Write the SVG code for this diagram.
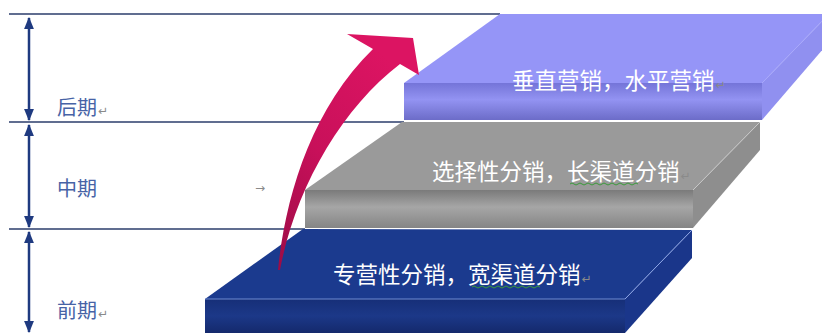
<svg xmlns="http://www.w3.org/2000/svg" width="822" height="333" viewBox="0 0 822 333">
  <style>
    .guide { stroke: #2b3d6b; stroke-width: 1.5; fill: none; }
    .span { stroke: #1f3a80; stroke-width: 2.5; fill: none; marker-start: url(#head); marker-end: url(#head); }
    .phase { font-family: "Noto Sans CJK SC", "Liberation Sans", sans-serif; font-size: 20px; fill: #4763a6; }
    .mark { font-family: "DejaVu Sans", "Liberation Sans", sans-serif; font-size: 12px; fill: #8a8a8a; }
    .blk { font-family: "Noto Sans CJK SC", "Liberation Sans", sans-serif; font-size: 22.5px; fill: #ffffff; }
    .squig { stroke: #3a9a3a; stroke-width: 1; fill: none; }
  </style>
  <defs>
    <marker id="head" viewBox="0 0 11 9" refX="10" refY="4.5" markerWidth="12" markerHeight="10" orient="auto-start-reverse" markerUnits="userSpaceOnUse">
      <path d="M0,0 L11,4.5 L0,9 Z" fill="#1f3a80"/>
    </marker>
    <linearGradient id="frontPurple" x1="0" y1="0" x2="0" y2="1">
      <stop offset="0" stop-color="#7474d8"/>
      <stop offset="0.45" stop-color="#9393f2"/>
      <stop offset="1" stop-color="#6c6cc8"/>
    </linearGradient>
    <linearGradient id="frontGray" x1="0" y1="0" x2="0" y2="1">
      <stop offset="0" stop-color="#7a7a7a"/>
      <stop offset="0.45" stop-color="#a6a6a6"/>
      <stop offset="1" stop-color="#858585"/>
    </linearGradient>
    <linearGradient id="frontNavy" x1="0" y1="0" x2="0" y2="1">
      <stop offset="0" stop-color="#162f78"/>
      <stop offset="0.5" stop-color="#1c3888"/>
      <stop offset="1" stop-color="#14296c"/>
    </linearGradient>
    <linearGradient id="sweep" x1="0" y1="1" x2="0.6" y2="0">
      <stop offset="0" stop-color="#9c0c46"/>
      <stop offset="0.5" stop-color="#c8105a"/>
      <stop offset="1" stop-color="#dc1462"/>
    </linearGradient>
  </defs>

  <!-- horizontal phase boundaries -->
  <g id="guides">
    <line class="guide" x1="9" y1="14" x2="500" y2="14"/>
    <line class="guide" x1="9" y1="122" x2="404" y2="122"/>
    <line class="guide" x1="9" y1="229" x2="305" y2="229"/>
  </g>

  <!-- bottom step -->
  <g id="step-early">
    <polygon points="205,299 303,229 692,230 625,299" fill="#1b3a8e"/>
    <polygon points="625,299 692,230 692,258 625,333" fill="#1a368a"/>
    <rect x="205" y="299" width="420" height="34" fill="url(#frontNavy)"/>
    <line x1="205" y1="299" x2="625" y2="299" stroke="#6f8ad0" stroke-width="1"/>
    <line x1="625" y1="299" x2="692" y2="230" stroke="#8ea6e6" stroke-width="1"/>
    <text class="blk" x="333" y="283">专营性分销，宽渠道分销<tspan class="mark" fill="#b8c0d8" dx="1">↵</tspan></text>
    <path class="squig" d="M472,287 q2,-2 4,0 t4,0 t4,0 t4,0 t4,0 t4,0 t4,0 t4,0 t4,0 t4,0 t4,0 t4,0 t4,0 t4,0 t4,0 t4,0 t4,0"/>
  </g>

  <!-- middle step -->
  <g id="step-mid">
    <polygon points="305,190 402,122 760,122 693,190" fill="#9a9a9a"/>
    <polygon points="693,190 760,122 760,150 693,228" fill="#8e8e8e"/>
    <rect x="305" y="190" width="388" height="38" fill="url(#frontGray)"/>
    <line x1="693" y1="190" x2="760" y2="122" stroke="#c8c8c8" stroke-width="1"/>
    <text class="blk" x="432" y="180">选择性分销，长渠道分销<tspan class="mark" fill="#c8c8c8" dx="1">↵</tspan></text>
    <path class="squig" d="M570,184 q2,-2 4,0 t4,0 t4,0 t4,0 t4,0 t4,0 t4,0 t4,0 t4,0 t4,0 t4,0 t4,0 t4,0 t4,0 t4,0 t4,0 t4,0"/>
  </g>

  <!-- top step -->
  <g id="step-late">
    <polygon points="404,83 500,14 829,14 762,83" fill="#9595f7"/>
    <polygon points="762,83 829,14 829,42 762,120" fill="#9090f0"/>
    <rect x="404" y="83" width="358" height="37" fill="url(#frontPurple)"/>
    <line x1="762" y1="83" x2="829" y2="14" stroke="#a8a8fa" stroke-width="1"/>
    <text class="blk" x="512" y="89">垂直营销，水平营销<tspan class="mark" fill="#c0c0e8" dx="1">↵</tspan></text>
  </g>

  <!-- phase labels -->
  <g id="label-late">
    <text class="phase" x="57" y="115">后期<tspan class="mark" dx="1">↵</tspan></text>
  </g>
  <g id="label-mid">
    <text class="phase" x="57" y="196">中期</text>
    <text class="mark" x="255" y="192" font-size="15" fill="#707070">→</text>
  </g>
  <g id="label-early">
    <text class="phase" x="57" y="318">前期<tspan class="mark" dx="1">↵</tspan></text>
  </g>

  <!-- connectors -->
  <g id="connectors">
    <line class="span" x1="29" y1="18" x2="29" y2="120"/>
    <line class="span" x1="29" y1="125" x2="29" y2="227"/>
    <line class="span" x1="29" y1="232" x2="29" y2="332"/>
    <path d="M278,270 C285,200 310,110 373,49 L347,34 L413,38 L419,75 L400,64 C340,110 295,190 280,270 Z" fill="url(#sweep)"/>
  </g>
</svg>
